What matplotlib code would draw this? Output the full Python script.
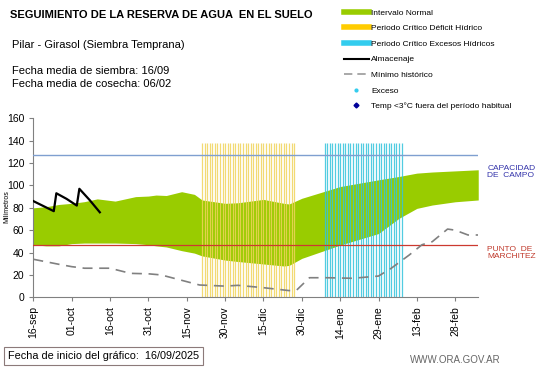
import numpy as np
import matplotlib.pyplot as plt
from matplotlib.lines import Line2D

plt.rcParams['font.family'] = ['Liberation Sans', 'DejaVu Sans']

# dias desde el 16-sep
tick_dias = [0, 15, 30, 45, 60, 75, 90, 105, 120, 135, 150, 165]
tick_labels = ['16-sep', '01-oct', '16-oct', '31-oct', '15-nov', '30-nov',
               '15-dic', '30-dic', '14-ene', '29-ene', '13-feb', '28-feb']

# intervalo normal
banda_dias = [0, 5, 10, 15, 20, 25, 32, 40, 45, 48, 52, 58, 63, 66, 75, 80, 90,
              98, 100, 105, 120, 135, 143, 150, 156, 165, 174]
banda_sup = [80, 81, 83, 84, 85.5, 88, 86, 90, 90.5, 91.4, 91, 94.4, 92, 87, 84, 84.5, 87.5,
             84, 83.4, 88.5, 99, 105, 108, 111, 112, 113, 114]
banda_inf = [47, 46, 46, 48, 48.5, 48.5, 48.5, 48, 47, 46, 45, 41.7, 39.5, 37, 33.3, 32, 29.8,
             28, 28.5, 34.8, 46.7, 57, 70.6, 79.5, 82.5, 85.4, 87]

# almacenaje
alm_dias = [0, 8, 9, 13, 17, 18, 22, 26]
alm_mm = [86, 77, 93, 88, 82, 97, 87, 76]

# minimo historico
min_dias = [0, 10, 15, 20, 30, 38, 45, 50, 60, 65, 75, 80, 90, 100, 103, 108, 115, 125,
            135, 140, 147, 152, 156, 162, 165, 170, 174]
min_mm = [34, 29.5, 27.4, 26, 26, 21.4, 21, 20, 14, 11, 10, 10.7, 8.6, 6, 6.5, 17.5, 17.5, 17,
          19, 26, 37.8, 47, 49.7, 61, 60, 55.7, 55.7]

# periodos criticos (dias)
deficit_dias = list(range(66, 103))
exceso_dias = list(range(114, 145))

capacidad_campo = 127
punto_marchitez = 47

fig = plt.figure(figsize=(5.41, 3.68), dpi=100)
ax = fig.add_axes([0.0616, 0.1921, 0.8224, 0.4864])

ax.fill_between(banda_dias, banda_inf, banda_sup, color='#99cc00', lw=0, zorder=1)
ax.vlines(deficit_dias, 0, 138, color='#f0d45a', lw=0.9, alpha=0.85, zorder=2)
ax.vlines(exceso_dias, 0, 138, color='#33c4dc', lw=0.9, alpha=0.85, zorder=2)
ax.axhline(capacidad_campo, color='#7f9fd0', lw=1, zorder=3)
ax.axhline(punto_marchitez, color='#cc3a30', lw=0.9, zorder=3)
ax.plot(min_dias, min_mm, color='#808080', lw=1.2, dashes=(6, 4), zorder=4)
ax.plot(alm_dias, alm_mm, color='black', lw=1.6, zorder=5)

ax.set_xlim(0, 174)
ax.set_ylim(0, 160)
ax.set_yticks(range(0, 161, 20))
ax.set_xticks(tick_dias)
ax.set_xticklabels(tick_labels, rotation=90)
ax.tick_params(labelsize=7.5, length=3, color='#808080')
for s in ['top', 'right']:
    ax.spines[s].set_visible(False)
for s in ['left', 'bottom']:
    ax.spines[s].set_color('#808080')

fig.text(6.5 / 541, 1 - 207 / 368, 'Milímetros', fontsize=5, rotation=90,
         ha='center', va='center')

ax.text(1.02, 0.70, 'CAPACIDAD\nDE  CAMPO', transform=ax.transAxes,
        fontsize=6, color='#3333aa', va='center', linespacing=1.1)
ax.text(1.02, 0.247, 'PUNTO  DE\nMARCHITEZ', transform=ax.transAxes,
        fontsize=6, color='#c0392b', va='center', linespacing=1.1)

fig.text(10 / 541, 1 - 15 / 368, 'SEGUIMIENTO DE LA RESERVA DE AGUA  EN EL SUELO',
         fontsize=8, fontweight='bold', va='center')
fig.text(12 / 541, 1 - 45 / 368, 'Pilar - Girasol (Siembra Temprana)', fontsize=8, va='center')
fig.text(12 / 541, 1 - 71 / 368, 'Fecha media de siembra: 16/09', fontsize=8, va='center')
fig.text(12 / 541, 1 - 84 / 368, 'Fecha media de cosecha: 06/02', fontsize=8, va='center')

handles = [
    Line2D([], [], color='#99cc00', lw=4),
    Line2D([], [], color='#ffcc00', lw=4),
    Line2D([], [], color='#33ccee', lw=4),
    Line2D([], [], color='black', lw=1.5),
    Line2D([], [], color='#999999', lw=1.2, dashes=(5, 3)),
    Line2D([], [], color='#33ccee', lw=0, marker='o', markersize=2),
    Line2D([], [], color='#000099', lw=0, marker='D', markersize=2.5),
]
labels = ['Intervalo Normal', 'Periodo Crítico Déficit Hídrico', 'Periodo Crítico Excesos Hídricos',
          'Almacenaje', 'Mínimo histórico', 'Exceso', 'Temp <3°C fuera del período habitual']
fig.legend(handles, labels, loc='upper left', bbox_to_anchor=(338 / 541, 1 - 3 / 368),
           frameon=False, fontsize=6, handlelength=3.0, handletextpad=0.3,
           labelspacing=0.93, borderpad=0.2)

fig.text(8 / 541, 1 - 356 / 368, 'Fecha de inicio del gráfico:  16/09/2025', fontsize=7.8,
         va='center', bbox=dict(boxstyle='square,pad=0.4', fc='white', ec='#8c7a7a', lw=0.8))
fig.text(410 / 541, 1 - 360 / 368, 'WWW.ORA.GOV.AR', fontsize=7, color='#666666', va='center')

fig.savefig('out.png', dpi=100)
